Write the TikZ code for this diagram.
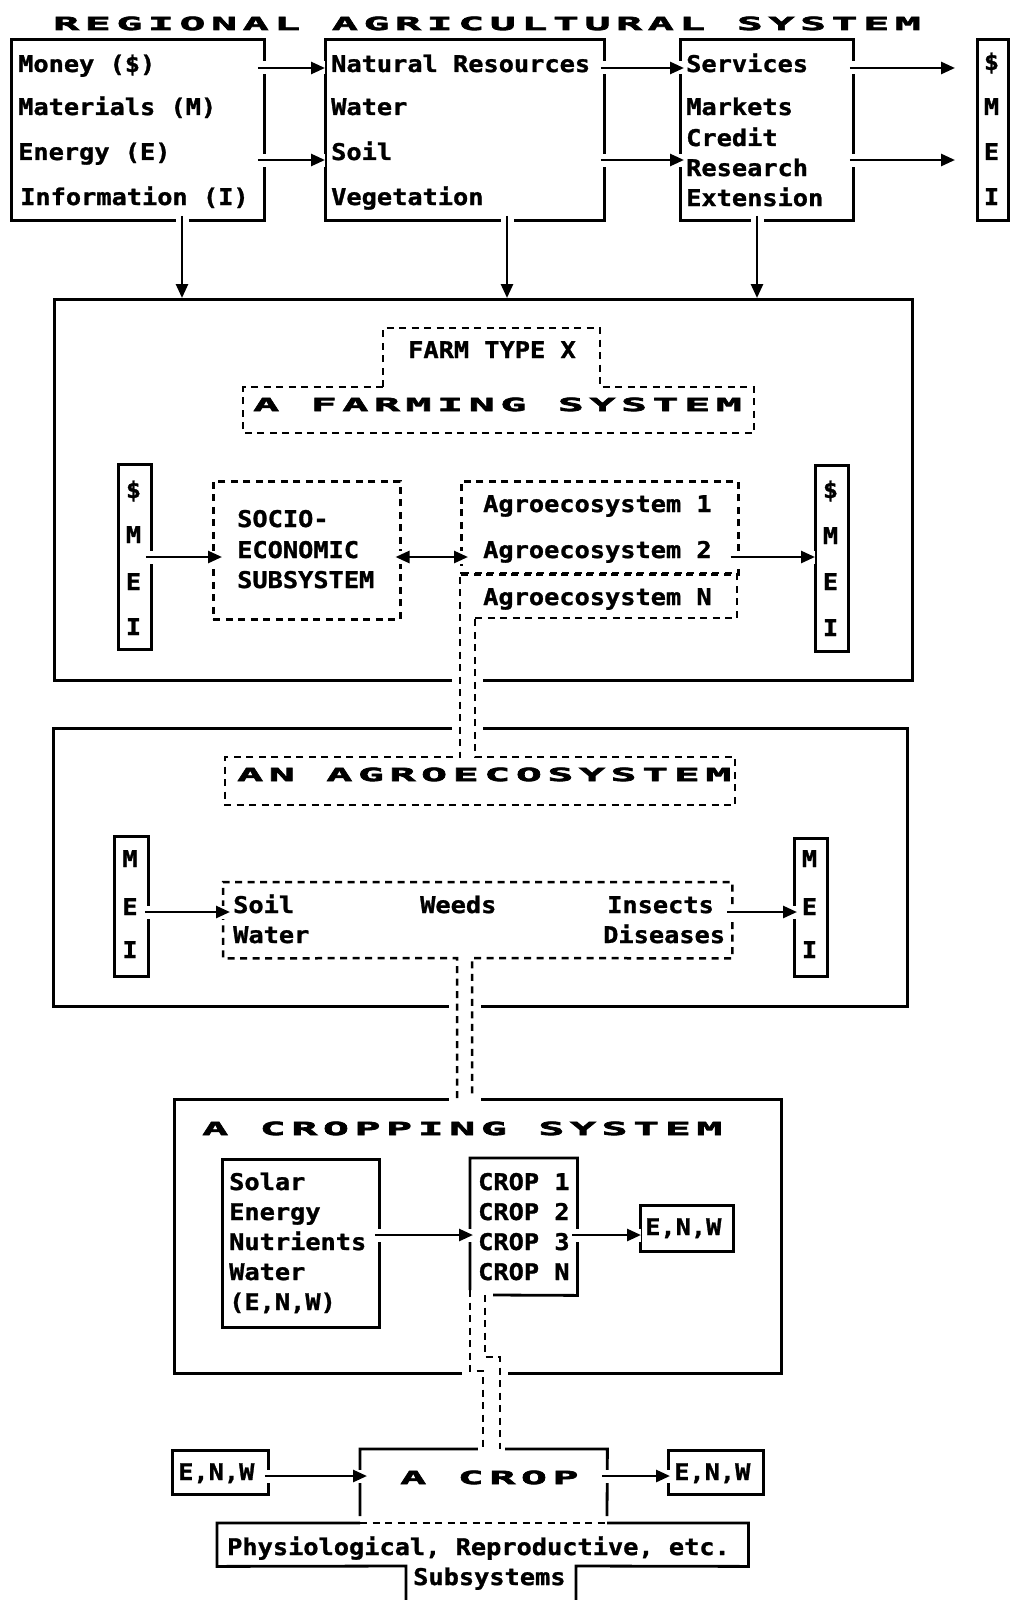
\documentclass[tikz,border=0pt]{standalone}
\usepackage{fontspec}
\usetikzlibrary{arrows.meta,calc}
\newfontfamily\bodyfont{DejaVu Sans Mono}[FakeStretch=1.1,FakeBold=1.2]
\newfontfamily\ttlfont{DejaVu Sans Mono}[FakeStretch=2.4,FakeBold=4,LetterSpace=31]
\begin{document}
\begin{tikzpicture}[x=1pt,y=-1pt,
  bx/.style={draw,line width=2.8pt,inner sep=0pt,anchor=north west},
  nb/.style={inner sep=0pt,anchor=north west},
  sl/.style={line width=2.8pt},
  dl/.style={line width=2.5pt,dash pattern=on 7pt off 5.5pt},
  dbx/.style={dl,draw,inner sep=0pt,anchor=north west},
  tx/.style={font=\bodyfont\bfseries\fontsize{23}{26}\selectfont,anchor=base west,inner sep=0pt},
  lt/.style={tx,anchor=base},
  tt/.style={font=\ttlfont\bfseries\fontsize{18}{20}\selectfont,anchor=base west,inner sep=0pt},
  arr/.style={line width=2.7pt,-{Triangle[length=14pt,width=12pt]},preaction={draw=white,line width=13pt,-}},
  darr/.style={line width=2.7pt,{Triangle[length=14pt,width=12pt]}-{Triangle[length=14pt,width=12pt]},preaction={draw=white,line width=13pt,-}},
  gap/.style={draw=white,line width=7pt}]
\fill[white] (0,0) rectangle (1010,1600);
\useasboundingbox (0,0) rectangle (1010,1600);

% row / column helpers
\coordinate (r1) at (0,68);
\coordinate (r2) at (0,160);
\coordinate (r3) at (0,557);
\coordinate (r4) at (0,912);
\coordinate (r5) at (0,1235);
\coordinate (r6) at (0,1476);
\coordinate (c1) at (182,0);
\coordinate (c2) at (507,0);
\coordinate (c3) at (757,0);

% ---------------- Regional agricultural system
\node[tt] (title) at (53,30) {REGIONAL AGRICULTURAL SYSTEM};
\node[bx,minimum width=253pt,minimum height=181pt] (b1) at (10,38) {};
\node[bx,minimum width=279pt,minimum height=181pt] (b2) at (324,38) {};
\node[bx,minimum width=173pt,minimum height=181pt] (b3) at (679,38) {};
\node[bx,minimum width=31pt,minimum height=181pt] (s1) at (976,38) {};

\node[tx] (money) at (18,72) {Money (\$)};
\node[tx] (mat) at (18,115) {Materials (M)};
\node[tx] (ener) at (18,160) {Energy (E)};
\node[tx] (info) at (20,205) {Information (I)};
\node[tx] (nat) at (331,72) {Natural Resources};
\node[tx] (wat) at (331,115) {Water};
\node[tx] (soil) at (331,160) {Soil};
\node[tx] (veg) at (331,205) {Vegetation};
\node[tx] (serv) at (686,72) {Services};
\node[tx] (mark) at (686,115) {Markets};
\node[tx] (cred) at (686,146) {Credit};
\node[tx] (res) at (686,176) {Research};
\node[tx] (ext) at (686,206) {Extension};
\node[lt] (s1a) at (991.5,70) {\$};
\node[lt] (s1b) at (991.5,115) {M};
\node[lt] (s1c) at (991.5,160) {E};
\node[lt] (s1d) at (991.5,205) {I};

% ---------------- Farming system
\node[bx,minimum width=858pt,minimum height=381pt] (fb) at (53,298) {};
\draw[dl] (383,387) -- (383,328) -- (600,328) -- (600,387) -- (754,387) -- (754,433) -- (243,433) -- (243,387) -- cycle;
\node[tx] (farmtype) at (408,358) {FARM TYPE X};
\node[tt] (farming) at (253,411) {A FARMING SYSTEM};

\node[bx,minimum width=33pt,minimum height=185pt] (s2) at (117,463) {};
\node[lt] at (133.5,498) {\$};
\node[lt] at (133.5,543) {M};
\node[lt] at (133.5,590) {E};
\node[lt] at (133.5,635) {I};

\node[dbx,minimum width=187pt,minimum height=138pt] (se) at (212,480) {};
\node[tx] at (237,527) {SOCIO-};
\node[tx] at (237,558) {ECONOMIC};
\node[tx] at (237,588) {SUBSYSTEM};

\node[dbx,minimum width=277pt,minimum height=93pt] (ag) at (460,480) {};
\node[tx] (ag1) at (483,512) {Agroecosystem 1};
\node[tx] (ag2) at (483,558) {Agroecosystem 2};
\node[tx] (agn) at (483,605) {Agroecosystem N};

\node[bx,minimum width=33pt,minimum height=186pt] (s3) at (814,464) {};
\node[lt] at (830.5,498) {\$};
\node[lt] at (830.5,544) {M};
\node[lt] at (830.5,590) {E};
\node[lt] at (830.5,636) {I};

% ---------------- Agroecosystem
\node[bx,minimum width=854pt,minimum height=278pt] (ab) at (52,727) {};
\node[tt] (anagro) at (237,781) {AN AGROECOSYSTEM};

\node[bx,minimum width=34pt,minimum height=140pt] (m1) at (113,835) {};
\node[lt] at (130,867) {M};
\node[lt] at (130,915) {E};
\node[lt] at (130,958) {I};
\node[bx,minimum width=33pt,minimum height=138pt] (m2) at (793,837) {};
\node[lt] at (809.5,867) {M};
\node[lt] at (809.5,915) {E};
\node[lt] at (809.5,958) {I};

\node[nb,minimum width=509pt,minimum height=76pt] (sw) at (223,882) {};
\node[tx] at (233,913) {Soil};
\node[tx] at (233,943) {Water};
\node[tx] at (420,913) {Weeds};
\node[tx] at (607,913) {Insects};
\node[tx] at (603,943) {Diseases};

% ---------------- Cropping system
\node[bx,minimum width=607pt,minimum height=274pt] (cb) at (173,1098) {};
\node[tt] (cropping) at (202,1135) {A CROPPING SYSTEM};
\node[bx,minimum width=157pt,minimum height=168pt] (sb) at (221,1158) {};
\node[tx] at (229,1190) {Solar};
\node[tx] at (229,1220) {Energy};
\node[tx] at (229,1250) {Nutrients};
\node[tx] at (229,1280) {Water};
\node[tx] at (229,1310) {(E,N,W)};
\node[nb,minimum width=107pt,minimum height=137pt] (crb) at (470,1158) {};
\draw[sl] (470,1290) -- (crb.north west) -- (crb.north east) -- (crb.south east) -- (493,1295);
\node[tx] at (478,1190) {CROP 1};
\node[tx] at (478,1220) {CROP 2};
\node[tx] at (478,1250) {CROP 3};
\node[tx] at (478,1280) {CROP N};
\node[bx,minimum width=93pt,minimum height=46pt] (e1) at (639,1204) {};
\node[tx] at (645,1235) {E,N,W};

% ---------------- A crop
\node[bx,minimum width=96pt,minimum height=44pt] (e2) at (171,1449) {};
\node[tx] at (178,1480) {E,N,W};
\node[bx,minimum width=95pt,minimum height=44pt] (e3) at (667,1449) {};
\node[tx] at (674,1480) {E,N,W};
\node[nb,minimum width=247pt,minimum height=74pt] (acb) at (360,1449) {};
\draw[sl] (360,1516) -- (acb.north west) -- (acb.north east) -- (607,1516);
\node[tt] (acrop) at (400,1484) {A CROP};
\node[nb,minimum width=531pt,minimum height=43pt] (pb) at (217,1523) {};
\draw[sl] (360,1523) -- (pb.north west) -- (pb.south west) -- (406,1566) -- (406,1601);
\draw[sl] (576,1601) -- (576,1566) -- (pb.south east) -- (pb.north east) -- (607,1523);
\draw[dl] (360,1523) -- (607,1523);
\node[tx] at (227,1555) {Physiological, Reproductive, etc.};
\node[tx] at (413,1585) {Subsystems};

% ---------------- gaps where dashed channels cross solid frames
\draw[gap] (452,679) -- (483,679);
\draw[gap] (452,727) -- (483,727);
\draw[gap] (449,1005) -- (481,1005);
\draw[gap] (449,1098) -- (481,1098);
\draw[gap] (462,1372) -- (508,1372);
\draw[gap] (478,1449) -- (505,1449);

% ---------------- dashed channels
\draw[dl] (475,618) -- (737,618) -- (737,573) -- (460,573) -- (460,757) -- (225,757) -- (225,805) -- (735,805) -- (735,757) -- (475,757) -- cycle;
\draw[dl] (457,1098) -- (457,958) -- (sw.south west) -- (sw.north west) -- (sw.north east) -- (sw.south east) -- (472,958) -- (472,1098);
\draw[dl] (470,1290) -- (470,1371) -- (483,1371) -- (483,1449);
\draw[dl] (485,1295) -- (485,1357) -- (500,1357) -- (500,1449);

% ---------------- connectors
\draw[arr] ($(b1.east|-r1)+(-8,0)$) -- ($(b2.west|-r1)+(1,0)$);
\draw[arr] ($(b1.east|-r2)+(-8,0)$) -- ($(b2.west|-r2)+(1,0)$);
\draw[arr] ($(b2.east|-r1)+(-5,0)$) -- ($(b3.west|-r1)+(5,0)$);
\draw[arr] ($(b2.east|-r2)+(-5,0)$) -- ($(b3.west|-r2)+(5,0)$);
\draw[arr] ($(b3.east|-r1)+(-5,0)$) -- ($(s1.west|-r1)+(-21,0)$);
\draw[arr] ($(b3.east|-r2)+(-5,0)$) -- ($(s1.west|-r2)+(-21,0)$);
\draw[arr] ($(c1|-b1.south)+(0,-6)$) -- (c1|-fb.north);
\draw[arr] ($(c2|-b2.south)+(0,-6)$) -- (c2|-fb.north);
\draw[arr] ($(c3|-b3.south)+(0,-6)$) -- (c3|-fb.north);

\draw[arr] ($(s2.east|-r3)+(-7,0)$) -- ($(se.west|-r3)+(10,0)$);
\draw[darr] ($(se.east|-r3)+(-6,0)$) -- ($(ag.west|-r3)+(8,0)$);
\draw[arr] ($(ag.east|-r3)+(-9,0)$) -- ($(s3.west|-r3)+(1,0)$);

\draw[arr] ($(m1.east|-r4)+(-5,0)$) -- ($(sw.west|-r4)+(7,0)$);
\draw[arr] ($(sw.east|-r4)+(-5,0)$) -- ($(m2.west|-r4)+(4,0)$);

\draw[arr] ($(sb.east|-r5)+(-6,0)$) -- ($(crb.west|-r5)+(3,0)$);
\draw[arr] ($(crb.east|-r5)+(-5,0)$) -- ($(e1.west|-r5)+(2,0)$);

\draw[arr] ($(e2.east|-r6)+(-5,0)$) -- ($(acb.west|-r6)+(7,0)$);
\draw[arr] ($(acb.east|-r6)+(-5,0)$) -- ($(e3.west|-r6)+(3,0)$);
\end{tikzpicture}
\end{document}
